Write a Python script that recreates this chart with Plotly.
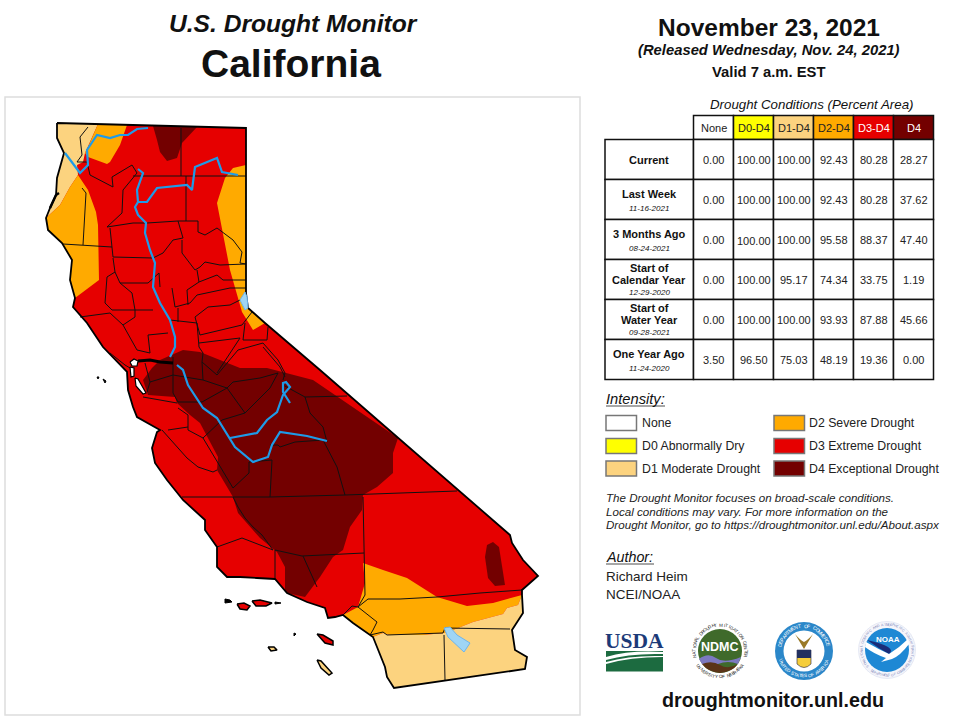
import math
import plotly.graph_objects as go

FONT = "Liberation Sans"
C_NONE, C_D0, C_D1, C_D2, C_D3, C_D4 = "#ffffff", "#ffff00", "#fcd37f", "#ffaa00", "#e60000", "#730000"
C_RIVER = "#1e9be8"
C_LAKE = "#9fd5f5"

OUTLINE = [(57,123),(98,124),(127,125),(153,126),(197,127),(246,128),(246,165),(246,293),(248,308),(265,323),
           (320,370),(398,438),(447,480),(510,535),(512,543),(523,560),(538,576),(522,590),(522,595),(523,613),
           (512,630),(515,650),(527,657),(525,669),(394,688),(387,677),(385,667),(373,637),(353,623),(343,615),
           (335,617),(328,618),(325,608),(307,602),(287,593),(275,579),(257,578),(240,577),(227,577),(217,567),
           (217,547),(205,530),(205,520),(183,500),(167,480),(155,463),(152,448),(157,432),(160,430),(137,417),
           (133,407),(128,390),(127,372),(113,357),(103,347),(87,323),(73,307),(75,298),(70,280),(72,260),
           (62,243),(48,230),(46,218),(50,208),(56,195),(57,178),(64,153),(57,138),(57,123)]

D1_NORTH_EDGE = [(60,205),(70,187),(78,175),(77,165),(83,162),(85,153),(88,147),(98,124)]
D2_NORTH_TOP = [(98,124),(127,125),(120,145),(110,162),(107,164),(88,157),(85,153),(88,147)]
D2_WEST_EDGE = [(60,205),(70,187),(78,175),(88,190),(96,212),(98,225),(99,280),(75,298)]
D2_EAST_EDGE = [(265,323),(253,330),(242,312),(230,270),(217,203),(225,178),(233,168),(246,165)]
D4_NORTH = [(153,126),(197,127),(182,143),(177,158),(167,161),(160,152),(157,140)]
D4_MAIN_EDGE = [(320,370),(313,380),(267,368),(240,368),(220,360),(200,352),(183,350),(160,360),(152,368),(143,380),
                (148,395),(175,397),(177,403),(190,415),(200,423),(218,457),(217,470),(233,497),(238,513),(260,538),
                (277,552),(285,567),(285,590),(287,593),(305,597),(320,577),(333,557),(343,550),(350,527),(362,510),
                (363,495),(377,487),(393,473),(393,453),(398,438)]
D4_SE = [(485,557),(487,545),(493,542),(499,547),(505,585),(495,586),(488,578)]
D2_SOUTH_EDGE = [(343,615),(358,607),(365,583),(363,563),(383,570),(407,578),(437,597),(467,606),(493,603),(522,595),
                 (518,605),(507,608),(503,614),(473,622),(453,630),(444,633),(423,635),(390,635),(383,633),(373,637),(353,623)]
D1_SOUTH_EDGE = [(522,595),(518,605),(507,608),(503,614),(473,622),(453,630),(444,633),(423,635),(390,635),(383,633),(373,637)]

COUNTY_LINES = [
 [(88,127),(80,137),(82,155),(77,162),(87,162)], [(181,128),(181,176)], [(133,176),(246,176)],
 [(87,162),(90,175),(113,187),(112,177),(132,165),(137,173),(123,190),(122,213),(107,227)],
 [(82,188),(86,193),(83,245)], [(63,244),(112,247)],
 [(107,227),(133,223),(147,223),(178,221),(198,221),(198,232),(205,235),(217,228),(233,240),(242,252),(240,263),(246,264)],
 [(186,176),(186,221)], [(110,228),(113,257),(153,258),(163,253),(173,240),(183,238),(178,221)],
 [(182,240),(182,253),(195,270),(200,267),(205,262),(220,265),(246,264)],
 [(113,258),(115,272),(107,277),(105,303),(112,310),(133,310),(153,310)],
 [(115,272),(120,283),(148,283),(159,273),(160,287)], [(120,283),(132,293),(135,310)],
 [(80,317),(110,313),(123,325),(135,317),(135,310)], [(123,325),(137,350),(150,353),(148,335),(168,333)],
 [(170,320),(197,323),(199,347),(203,353)], [(178,308),(178,322)],
 [(172,288),(175,307),(190,303),(197,295),(230,288),(246,288)], [(197,270),(199,282),(187,290),(188,305)],
 [(199,282),(217,275),(223,280),(246,280)], [(195,317),(208,307),(230,305),(240,300)],
 [(195,317),(200,335),(242,325),(252,312)], [(245,323),(243,340),(267,340),(268,327)],
 [(199,343),(240,338),(217,373)], [(263,347),(280,367),(285,377)], [(173,357),(173,393),(178,402)],
 [(202,362),(217,375),(238,350),(263,343)], [(263,343),(278,360),(285,373),(283,380)],
 [(150,382),(173,375),(203,380),(202,362)], [(203,353),(202,362)],
 [(203,380),(227,388),(202,402),(178,402)],
 [(227,388),(245,413),(270,388),(278,373),(260,378),(233,382),(227,388)],
 [(245,413),(222,420),(203,438),(188,430),(188,415),(178,408)],
 [(203,438),(220,467),(233,488),(249,473),(249,462),(272,460),(270,497)],
 [(270,445),(278,445),(280,447),(295,442),(323,440),(337,467),(345,495)],
 [(283,385),(305,397),(347,396)], [(305,397),(310,413),(323,427),(327,442)],
 [(182,497),(270,497),(345,495),(457,491)], [(363,497),(364,553),(365,595),(358,607)],
 [(275,550),(302,556),(364,553)], [(275,550),(275,578)], [(303,556),(317,587)],
 [(217,547),(242,538),(273,550)], [(233,497),(238,507),(245,518),(253,527),(262,535),(273,550)],
 [(162,430),(187,458),(198,467),(213,472),(217,470)], [(168,430),(188,427)], [(143,397),(177,403)],
 [(150,382),(147,392)], [(110,353),(125,365),(130,368)], [(145,363),(150,382)],
 [(358,607),(368,599),(400,599),(437,597),(480,593),(522,590)],
 [(343,615),(352,606),(358,607),(377,622),(373,630),(370,635),(383,632),(387,635),(443,633),(445,628),(510,629)],
 [(444,635),(445,680)],
]

RIVERS = [
 [(65,153),(72,162),(80,173),(88,165),(87,150),(97,135),(110,138),(120,135),(128,135),(137,129),(148,128)],
 [(138,169),(143,173),(137,190),(138,202),(135,207),(138,215),(146,223),(145,233),(150,250),(155,263),(153,287),
  (160,303),(170,320),(175,337),(175,347),(170,357)],
 [(138,202),(147,202),(157,188),(170,187),(187,185),(192,190),(195,167),(217,158),(222,172),(238,175)],
 [(177,365),(183,370),(188,385),(203,408),(217,418),(230,438),(235,447),(253,462),(268,457),(272,445),(280,432),(307,436),(327,441)],
 [(230,438),(257,433),(267,420),(277,412),(283,395),(290,387),(286,382),(283,383),(283,392),(290,403)],
]
LAKES = [[(444,628),(450,627),(457,635),(470,643),(464,652),(457,645),(448,637)],
         [(245,292),(240,300),(245,310),(248,308),(247,297)]]
BAYS = [[(130,362),(134,359),(138,361),(137,366),(132,366)], [(130,367),(134,368),(134,376),(131,377)],
        [(135,378),(138,379),(146,393),(143,394),(136,386)]]
DELTA = [(138,361),(150,360),(160,362),(173,363)]
HUMBOLDT_BAY = [(50,208),(56,195),(59,193)]
ISLANDS_D3 = [[(237,604),(244,603),(250,606),(247,610),(240,609)], [(252,601),(260,600),(272,603),(266,606),(256,606)],
              [(317,634),(323,635),(333,641),(333,645),(325,643)]]
ISLANDS_D1 = [[(268,647),(274,647),(277,650),(271,651)], [(317,660),(321,661),(332,673),(329,675),(321,668)]]
ISLANDS_DOT = [[(225,599),(230,600),(232,602),(225,603)], [(275,602),(281,603),(275,604)], [(294,633),(296,634),(294,636)],
               [(97,377),(99,377),(98,379)], [(103,379),(106,381),(105,383)]]

TABLE_COLUMNS = ["None", "D0-D4", "D1-D4", "D2-D4", "D3-D4", "D4"]
HEADER_FILLS = [C_NONE, C_D0, C_D1, C_D2, C_D3, C_D4]
HEADER_TEXT = ["#222222", "#222222", "#222222", "#222222", "#ffffff", "#ffffff"]
ROW_TITLES = [["Current"], ["Last Week"], ["3 Months Ago"], ["Start of", "Calendar Year"], ["Start of", "Water Year"], ["One Year Ago"]]
ROW_DATES = ["", "11-16-2021", "08-24-2021", "12-29-2020", "09-28-2021", "11-24-2020"]
ROW_VALUES = [["0.00","100.00","100.00","92.43","80.28","28.27"],
              ["0.00","100.00","100.00","92.43","80.28","37.62"],
              ["0.00","100.00","100.00","95.58","88.37","47.40"],
              ["0.00","100.00","95.17","74.34","33.75","1.19"],
              ["0.00","100.00","100.00","93.93","87.88","45.66"],
              ["3.50","96.50","75.03","48.19","19.36","0.00"]]
LEGEND_LEFT = [("None", C_NONE), ("D0 Abnormally Dry", C_D0), ("D1 Moderate Drought", C_D1)]
LEGEND_RIGHT = [("D2 Severe Drought", C_D2), ("D3 Extreme Drought", C_D3), ("D4 Exceptional Drought", C_D4)]

TABLE_X = [605, 693.5, 733.5, 773.5, 813.5, 853.5, 893.5, 933.5]
TABLE_Y = [115.5, 139.5, 179.5, 219.5, 259.5, 299.5, 339.5, 379.5]

fig = go.Figure()
annotations, shapes = [], []

def seg(a, b):
    i = OUTLINE.index(a)
    j = len(OUTLINE) - 1 - OUTLINE[::-1].index(b)
    return OUTLINE[i:j + 1]

def poly(pts, fill, line=None, w=0):
    fig.add_trace(go.Scatter(x=[p[0] for p in pts] + [pts[0][0]], y=[p[1] for p in pts] + [pts[0][1]], mode="lines",
                             fill="toself", fillcolor=fill, line=dict(color=line or fill, width=w), hoverinfo="skip", showlegend=False))

def path(pts, color, w):
    fig.add_trace(go.Scatter(x=[p[0] for p in pts], y=[p[1] for p in pts], mode="lines",
                             line=dict(color=color, width=w), hoverinfo="skip", showlegend=False))

def txt(x, y, s, size, color="#111111", anchor="center", angle=0, family=FONT):
    annotations.append(dict(x=x, y=y, text=s, showarrow=False, xref="x", yref="y", xanchor=anchor, yanchor="middle",
                            font=dict(family=family, size=size, color=color), textangle=angle, align=anchor if anchor != "center" else "center",
                            borderpad=0, borderwidth=0))

def rect(x0, y0, x1, y1, fill=None, line="#000000", w=1):
    shapes.append(dict(type="rect", xref="x", yref="y", x0=x0, y0=y0, x1=x1, y1=y1, fillcolor=fill or "rgba(0,0,0,0)",
                       line=dict(color=line, width=w), layer="above"))

def hline(x0, x1, y, color="#111111", w=1):
    shapes.append(dict(type="line", xref="x", yref="y", x0=x0, x1=x1, y0=y, y1=y, line=dict(color=color, width=w), layer="above"))

def circle(cx, cy, r, fill, line=None, w=0):
    shapes.append(dict(type="circle", xref="x", yref="y", x0=cx - r, x1=cx + r, y0=cy - r, y1=cy + r, fillcolor=fill,
                       line=dict(color=line or fill, width=w), layer="above"))

def svg(d, fill, line=None, w=0):
    shapes.append(dict(type="path", xref="x", yref="y", path=d, fillcolor=fill, line=dict(color=line or fill, width=w), layer="above"))

def arc_text(cx, cy, r, s, start, end, size, color, bottom=False):
    n = len(s)
    for i, ch in enumerate(s):
        if ch == " ":
            continue
        a = start + (end - start) * (i + 0.5) / n
        rad = math.radians(a)
        x, y = cx + r * math.sin(rad), cy - r * math.cos(rad)
        txt(x, y, ch, size, color, angle=(a + 180 if bottom else a))

# map frame
rect(5, 97, 580, 715, None, "#dddddd", 1.5)

# drought areas
poly(OUTLINE, C_D3)
poly(seg((46,218),(57,123)) + D1_NORTH_EDGE[-1:] + D1_NORTH_EDGE[-2::-1], C_D1)
poly(D2_NORTH_TOP, C_D2)
poly(seg((75,298),(46,218)) + D2_WEST_EDGE, C_D2)
poly(seg((246,165),(265,323)) + D2_EAST_EDGE, C_D2)
poly(D4_NORTH, C_D4)
poly(seg((320,370),(398,438)) + D4_MAIN_EDGE[1:], C_D4)
poly(D4_SE, C_D4)
poly(D2_SOUTH_EDGE, C_D2)
poly(seg((522,595),(373,637)) + D1_SOUTH_EDGE[::-1][1:-1], C_D1)

# counties, rivers, water
for line in COUNTY_LINES:
    path(line, "#111111", 1)
path(OUTLINE, "#000000", 1.8)
path(HUMBOLDT_BAY, "#000000", 2.5)
for b in BAYS:
    poly(b, "#ffffff", "#000000", 1.2)
path(DELTA, "#000000", 3)
for lake in LAKES:
    poly(lake, C_LAKE, "#6fb5ea", 1)
for r in RIVERS:
    path(r, C_RIVER, 2.2)
for isl in ISLANDS_D3:
    poly(isl, C_D3, "#000000", 1.5)
for isl in ISLANDS_D1:
    poly(isl, C_D1, "#000000", 1.5)
for isl in ISLANDS_DOT:
    poly(isl, "#000000", "#000000", 1)

# titles
txt(293, 23, "<b><i>U.S. Drought Monitor</i></b>", 24.6)
txt(291, 63, "<b>California</b>", 39)
txt(769, 27, "<b>November 23, 2021</b>", 24.5)
txt(769, 50, "<b><i>(Released Wednesday, Nov. 24, 2021)</i></b>", 14.8)
txt(769, 72, "<b>Valid 7 a.m. EST</b>", 14.8)
txt(812, 104, "<i>Drought Conditions (Percent Area)</i>", 13.3)

# table
for j, col in enumerate(TABLE_COLUMNS):
    x0, x1 = TABLE_X[j + 1], TABLE_X[j + 2]
    rect(x0, TABLE_Y[0], x1, TABLE_Y[1], HEADER_FILLS[j], "#111111", 1.5)
    txt((x0 + x1) / 2, 127.5, col, 11, HEADER_TEXT[j])
for i in range(6):
    y0, y1 = TABLE_Y[i + 1], TABLE_Y[i + 2]
    rect(TABLE_X[0], y0, TABLE_X[1], y1, "#ffffff", "#111111", 1.5)
    for j, v in enumerate(ROW_VALUES[i]):
        x0, x1 = TABLE_X[j + 1], TABLE_X[j + 2]
        rect(x0, y0, x1, y1, "#ffffff", "#111111", 1.5)
        dy = 1 if (i == 2 and j == 1) else 0
        txt((x0 + x1) / 2, (y0 + y1) / 2 + dy, v, 11, "#222222")
    cx = (TABLE_X[0] + TABLE_X[1]) / 2
    title, date = ROW_TITLES[i], ROW_DATES[i]
    if not date:
        txt(cx, (y0 + y1) / 2, "<b>" + title[0] + "</b>", 11)
    elif len(title) == 1:
        txt(cx, y0 + 14, "<b>" + title[0] + "</b>", 11)
        txt(cx, y0 + 28.5, "<i>" + date + "</i>", 8)
    else:
        txt(cx, y0 + 8, "<b>" + title[0] + "</b>", 11)
        txt(cx, y0 + 20.5, "<b>" + title[1] + "</b>", 11)
        txt(cx, y0 + 32.5, "<i>" + date + "</i>", 8)

# legend
txt(606, 399, "<i>Intensity:</i>", 14.7, anchor="left")
hline(606, 665, 406, "#222222", 0.8)
SWATCH_Y = [423, 446, 468.5]
for (label, col), y in zip(LEGEND_LEFT, SWATCH_Y):
    rect(606, y - 7.5, 636.5, y + 7.5, col, "#777777", 1.5)
    txt(642, y, label, 12.3, "#222222", "left")
for (label, col), y in zip(LEGEND_RIGHT, SWATCH_Y):
    rect(774, y - 7.5, 804.5, y + 7.5, col, "#777777", 1.5)
    txt(809, y, label, 12.3, "#222222", "left")

txt(606, 497.5, "<i>The Drought Monitor focuses on broad-scale conditions.</i>", 11.6, "#222222", "left")
txt(606, 511, "<i>Local conditions may vary. For more information on the</i>", 11.6, "#222222", "left")
txt(606, 524.5, "<i>Drought Monitor, go to https://droughtmonitor.unl.edu/About.aspx</i>", 11.6, "#222222", "left")

txt(606, 557, "<i>Author:</i>", 14.3, anchor="left")
hline(606, 654, 564, "#222222", 0.8)
txt(606, 576, "Richard Heim", 13.5, "#222222", "left")
txt(606, 594, "NCEI/NOAA", 13.5, "#222222", "left")

# USDA logo
txt(634.5, 641, "<b>USDA</b>", 21.5, "#1c3a78", family="Liberation Serif")
rect(606, 651, 663, 671.5, "#1c6b40", "#1c6b40", 0)
svg("M606,657 Q630,650 663,652 L663,654 Q630,653 606,660 Z", "#ffffff")
svg("M606,662 Q630,655 663,656 L663,657 Q630,657 606,664 Z", "#ffffff")

# NDMC logo
circle(720, 651, 30, "#ffffff")
circle(720, 651, 22, "#3f6a2b")
txt(720, 647, "<b>NDMC</b>", 12.5, "#ffffff")
svg("M699,659 Q708,652 716,658 T741,657 L738,664 Q728,660 718,664 T702,664 Z", "#7c79c0")
svg("M702,664 Q712,660 720,665 T738,664 Q732,672 720,673 Q708,672 702,664 Z", "#5a3418")
arc_text(720, 651, 26, "NATIONAL DROUGHT MITIGATION CENTER", -105, 105, 4.5, "#222222")
arc_text(720, 651, 26, "UNIVERSITY OF NEBRASKA", 240, 120, 4.5, "#222222", bottom=True)

# Commerce logo
circle(804, 651, 29, "#2b87c9")
circle(804, 651, 20.5, "#ffffff")
arc_text(804, 651, 25, "DEPARTMENT OF COMMERCE", -80, 80, 5, "#ffffff")
arc_text(804, 651, 25, "UNITED STATES OF AMERICA", 250, 110, 4.6, "#ffffff", bottom=True)
svg("M797,650 L811,650 L811,664 Q804,671 797,664 Z", "#f5cd3a", "#222244", 0.6)
svg("M797,650 L811,650 L811,658 L797,658 Z", "#22305f")
svg("M804,649 L795,634 Q800,640 804,642 Q808,640 813,634 Z", "#9a7a28")

# NOAA logo
circle(887, 650, 28.5, "#f4f5fb", "#d9ddee", 0.6)
circle(887, 650, 22, "#1e88d4")
svg("M867,640 A22,22 0 0 1 908,639 Q898,647 889,654 Q878,648 867,640 Z", "#1b2d78")
svg("M866,642 Q878,649 889,654 Q899,648 908,639 L909,644 Q900,656 892,659 L881,662 L886,658 Q874,654 865,647 Z", "#ffffff")
txt(887.5, 639.5, "<b>NOAA</b>", 8, "#ffffff")
arc_text(887, 650, 25.5, "NATIONAL OCEANIC AND ATMOSPHERIC ADMINISTRATION", -120, 120, 3.4, "#7c86b8")
arc_text(887, 650, 25.5, "U.S. DEPARTMENT OF COMMERCE", 240, 120, 3.4, "#7c86b8", bottom=True)

txt(773, 700, "<b>droughtmonitor.unl.edu</b>", 19.7, "#111111")

fig.update_layout(width=960, height=720, margin=dict(l=0, r=0, t=0, b=0), paper_bgcolor="#ffffff", plot_bgcolor="#ffffff",
                  xaxis=dict(range=[0, 960], visible=False, fixedrange=True),
                  yaxis=dict(range=[720, 0], visible=False, fixedrange=True),
                  showlegend=False, annotations=annotations, shapes=shapes)
fig.write_html("out.html", config=dict(displayModeBar=False), post_script="document.body.style.margin='0';")
